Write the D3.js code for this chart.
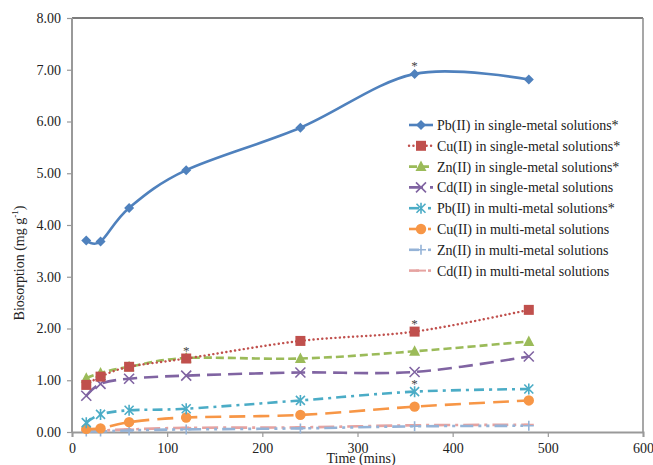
<!DOCTYPE html>
<html><head><meta charset="utf-8">
<script src="https://cdn.jsdelivr.net/npm/d3@7/dist/d3.min.js"></script>
<style>body{margin:0;background:#fff}svg{display:block}text{font-family:"Liberation Serif","Times New Roman",serif}</style>
</head><body><svg id="c" width="653" height="465"></svg>
<script>
const times = [15, 30, 60, 120, 240, 360, 480];
const seriesNames = [
  "Pb(II) in single-metal solutions*",
  "Cu(II) in single-metal solutions*",
  "Zn(II) in single-metal solutions*",
  "Cd(II) in single-metal solutions",
  "Pb(II) in multi-metal solutions*",
  "Cu(II) in multi-metal solutions",
  "Zn(II) in multi-metal solutions",
  "Cd(II) in multi-metal solutions"
];
const pbSingle = [3.70, 3.68, 4.33, 5.06, 5.88, 6.92, 6.81];
const cuSingle = [0.91, 1.07, 1.26, 1.42, 1.76, 1.94, 2.36];
const znSingle = [1.04, 1.14, 1.26, 1.43, 1.42, 1.56, 1.75];
const cdSingle = [0.70, 0.93, 1.03, 1.09, 1.15, 1.16, 1.46];
const pbMulti = [0.18, 0.34, 0.42, 0.45, 0.61, 0.78, 0.83];
const cuMulti = [0.06, 0.07, 0.19, 0.28, 0.33, 0.49, 0.61];
const znMulti = [0.01, 0.01, 0.03, 0.05, 0.07, 0.11, 0.12];
const cdMulti = [0.03, 0.03, 0.05, 0.08, 0.09, 0.13, 0.14];
const seriesValues = [pbSingle, cuSingle, znSingle, cdSingle, pbMulti, cuMulti, znMulti, cdMulti];
const xTicks = [0, 100, 200, 300, 400, 500, 600];
const yTicks = [0, 1, 2, 3, 4, 5, 6, 7, 8];
// significance stars: [series index, time]
const stars = [[0, 360], [1, 120], [1, 360], [4, 360]];

const colors = ["#4F81BD", "#C0504D", "#9BBB59", "#8064A2", "#4BACC6", "#F79646", "#95B3D7", "#E6A3A1"];
const dashes = [null, "0.1,4.3", "8,4", "14,7", "10,5,3,5", "16,8", "13,5,3,5,3,5", "16,5,3,5"];
const caps = ["butt", "round", "butt", "butt", "butt", "butt", "butt", "butt"];
const markers = ["diamond", "square", "triangle", "x", "asterisk", "circle", "plus", "dash"];

const svg = d3.select("#c");
const L = 72, R = 643, T = 18, B = 432;
const x = d3.scaleLinear().domain([0, 600]).range([L, R]);
const y = d3.scaleLinear().domain([0, 8]).range([B, T]);

// frame top/right
svg.append("line").attr("x1", L).attr("x2", R).attr("y1", T).attr("y2", T).attr("stroke", "#505050").attr("stroke-width", 1.5);
svg.append("line").attr("x1", R).attr("x2", R).attr("y1", T).attr("y2", B).attr("stroke", "#8a8a8a").attr("stroke-width", 1.5);

// axes
const xAxis = svg.append("g").attr("transform", `translate(0,${B})`)
  .call(d3.axisBottom(x).tickValues(xTicks).tickSize(5).tickPadding(5).tickFormat(d3.format("d")));
const yAxis = svg.append("g").attr("transform", `translate(${L},0)`)
  .call(d3.axisLeft(y).tickValues(yTicks).tickSize(5).tickPadding(6).tickFormat(d3.format(".2f")));
[xAxis, yAxis].forEach(g => {
  g.select(".domain").attr("stroke", "#999").attr("stroke-width", 2);
  g.selectAll(".tick line").attr("stroke", "#999").attr("stroke-width", 1.2);
  g.selectAll("text").attr("font-size", 14).attr("fill", "#222").attr("font-family", "Liberation Serif");
});
yAxis.selectAll(".domain").attr("d", `M0,${T}V${B}`);
xAxis.selectAll("text").attr("dy", "0.78em");

svg.append("text").attr("x", 361).attr("y", 463).attr("text-anchor", "middle").attr("font-size", 14).attr("fill", "#222").text("Time (mins)");
const yl = svg.append("text").attr("transform", "translate(24,263) rotate(-90)").attr("text-anchor", "middle").attr("font-size", 14).attr("fill", "#222");
yl.append("tspan").text("Biosorption (mg g");
yl.append("tspan").attr("font-size", 9).attr("dy", -6).text("-1");
yl.append("tspan").attr("dy", 6).text(")");

function drawMarker(g, type, cx, cy, col) {
  const s = g.append("g").attr("transform", `translate(${cx},${cy})`);
  switch (type) {
    case "diamond": s.append("path").attr("d", "M0,-5L5,0L0,5L-5,0Z").attr("fill", col); break;
    case "square": s.append("rect").attr("x", -5).attr("y", -5).attr("width", 10).attr("height", 10).attr("fill", col); break;
    case "triangle": s.append("path").attr("d", "M0,-6L5.5,4.5L-5.5,4.5Z").attr("fill", col); break;
    case "x": s.append("path").attr("d", "M-5,-5L5,5M-5,5L5,-5").attr("stroke", col).attr("stroke-width", 1.6); break;
    case "asterisk": s.append("path").attr("d", "M-4.5,-4.5L4.5,4.5M-4.5,4.5L4.5,-4.5M0,-5.5V5.5").attr("stroke", col).attr("stroke-width", 1.6); break;
    case "circle": s.append("circle").attr("r", 5.2).attr("fill", col); break;
    case "plus": s.append("path").attr("d", "M-5,0H5M0,-5V5").attr("stroke", col).attr("stroke-width", 1.6); break;
    case "dash": s.append("path").attr("d", "M-5,0H5").attr("stroke", col).attr("stroke-width", 2); break;
  }
}

const line = d3.line().x(d => x(d[0])).y(d => y(d[1])).curve(d3.curveCardinal.tension(0));
// draw back-to-front (last series first)
for (let i = seriesValues.length - 1; i >= 0; i--) {
  const pts = times.map((t, j) => [t, seriesValues[i][j]]);
  const g = svg.append("g");
  g.append("path").attr("d", line(pts)).attr("fill", "none").attr("stroke", colors[i])
    .attr("stroke-width", i === 1 ? 2.4 : 2.6).attr("stroke-dasharray", dashes[i]).attr("stroke-linecap", caps[i]);
  pts.forEach(p => drawMarker(g, markers[i], x(p[0]), y(p[1]), colors[i]));
}

// stars
stars.forEach(([si, t]) => {
  const v = seriesValues[si][times.indexOf(t)];
  svg.append("text").attr("x", x(t)).attr("y", y(v) - 4).attr("text-anchor", "middle").attr("font-size", 13).attr("fill", "#444").text("*");
});

// legend
const lg = svg.append("g");
seriesNames.forEach((n, i) => {
  const yy = 125 + i * 20.8;
  const g = lg.append("g");
  if (i < 4) {
    g.append("line").attr("x1", 409).attr("x2", 433).attr("y1", yy).attr("y2", yy).attr("stroke", colors[i]).attr("stroke-width", i === 1 ? 2.4 : 2.6).attr("stroke-dasharray", dashes[i]).attr("stroke-linecap", caps[i]);
  } else {
    g.append("line").attr("x1", 409).attr("x2", 419).attr("y1", yy).attr("y2", yy).attr("stroke", colors[i]).attr("stroke-width", 2.6);
    g.append("line").attr("x1", 428).attr("x2", 431).attr("y1", yy).attr("y2", yy).attr("stroke", colors[i]).attr("stroke-width", 2.6);
  }
  drawMarker(g, markers[i], 421, yy, colors[i]);
  g.append("text").attr("x", 437).attr("y", yy + 5).attr("font-size", 14).attr("fill", "#222").text(n);
});
</script></body></html>
